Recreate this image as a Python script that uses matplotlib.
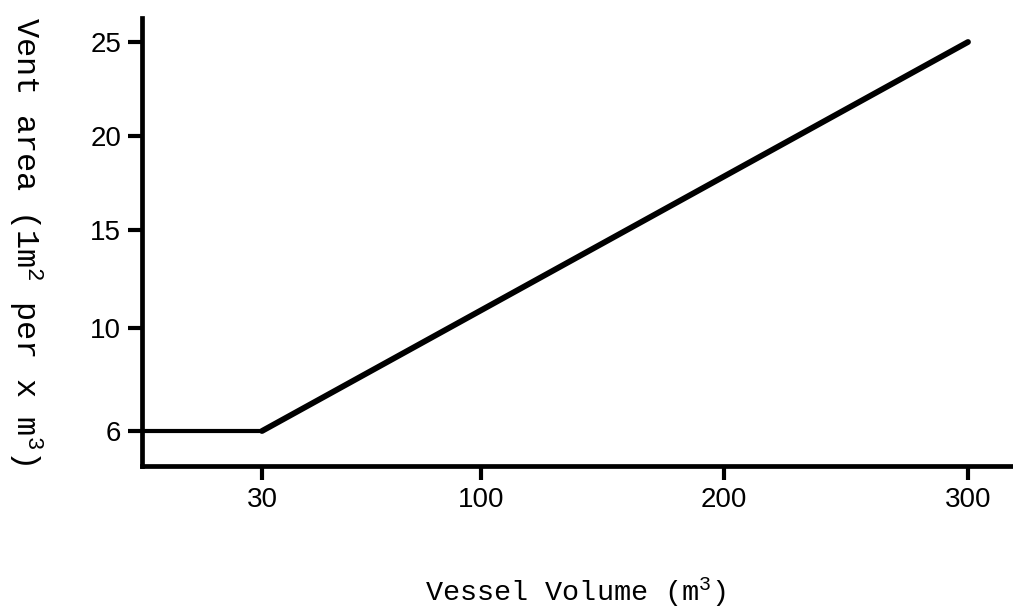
import numpy as np
import matplotlib
matplotlib.use("Agg")
import matplotlib.pyplot as plt

# === Data ===
volume = [0, 30, 300]          # m^3
vent_area = [6, 6, 25]         # 1 m^2 per x m^3

x_ticks = [30, 100, 200, 300]
y_ticks = [6, 10, 15, 20, 25]

# the original drawing is not to scale, so map values through a piecewise scale
x_knots = [0, 30, 100, 200, 300, 400]
x_pos = [142, 262, 481, 724, 968, 1212]
y_knots = [5, 6, 10, 15, 20, 25, 27]
y_pos = [-466, -431, -328, -230, -136, -42, -4.4]


def fwd_x(v):
    return np.interp(v, x_knots, x_pos)


def inv_x(p):
    return np.interp(p, x_pos, x_knots)


def fwd_y(v):
    return np.interp(v, y_knots, y_pos)


def inv_y(p):
    return np.interp(p, y_pos, y_knots)


plt.rcParams["mathtext.fontset"] = "custom"
plt.rcParams["mathtext.rm"] = "Liberation Mono"
plt.rcParams["mathtext.it"] = "Liberation Mono"

fig = plt.figure(figsize=(10.13, 6.12), dpi=100)
ax = fig.add_axes([142 / 1013, 146 / 612, 871 / 1013, 448 / 612])

ax.set_xscale("function", functions=(fwd_x, inv_x))
ax.set_yscale("function", functions=(fwd_y, inv_y))

# flat part thinner than the sloped part, as drawn
ax.plot(volume[:2], vent_area[:2], color="black", linewidth=3,
        solid_capstyle="butt", clip_on=False)
ax.plot(volume[1:], vent_area[1:], color="black", linewidth=4.2,
        solid_capstyle="round")

ax.set_xlim(0, inv_x(1013))
ax.set_ylim(5, inv_y(-18))

ax.set_xticks(x_ticks)
ax.set_xticklabels([str(t) for t in x_ticks])
ax.set_yticks(y_ticks)
ax.set_yticklabels([str(t) for t in y_ticks])
ax.minorticks_off()

for side in ["top", "right"]:
    ax.spines[side].set_visible(False)
for side in ["left", "bottom"]:
    ax.spines[side].set_linewidth(3.4)
    ax.spines[side].set_capstyle("projecting")

ax.tick_params(axis="both", direction="out", length=10, width=3,
               labelsize=20, colors="black")
ax.tick_params(axis="x", pad=5)
ax.tick_params(axis="y", pad=5)
for lab in ax.get_xticklabels() + ax.get_yticklabels():
    lab.set_fontfamily("Liberation Sans")

fig.text(576 / 1013, 1 - 592 / 612, r"Vessel Volume (m$^3$)",
         fontfamily="Liberation Mono", fontsize=20.5, ha="center", va="center")
fig.text(25 / 1013, 1 - 241 / 612, r"Vent area (1m$^2$ per x m$^3$)",
         fontfamily="Liberation Mono", fontsize=23, rotation=270,
         ha="center", va="center")

fig.savefig("out.png", dpi=100)
